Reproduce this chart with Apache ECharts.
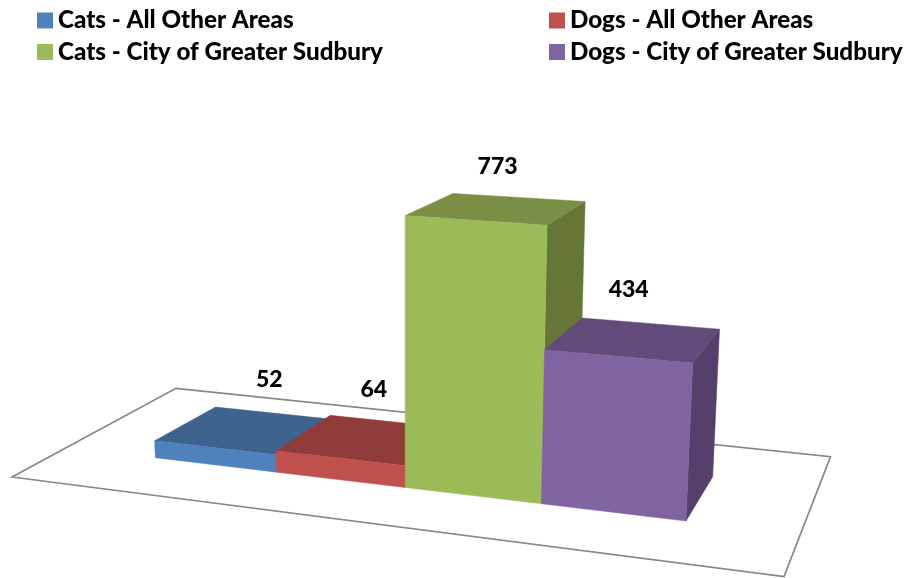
<!DOCTYPE html>
<html>
<head>
<meta charset="utf-8">
<script src="https://cdn.jsdelivr.net/npm/echarts@6/dist/echarts.min.js"></script>
<style>html,body{margin:0;padding:0;background:#fff}#c{width:907px;height:578px}</style>
</head>
<body>
<div id="c"></div>
<script>
var categories = ['Cats - All Other Areas', 'Dogs - All Other Areas', 'Cats - City of Greater Sudbury', 'Dogs - City of Greater Sudbury'];
var values = [52, 64, 773, 434];

var frontColors = ['#4f81bd', '#c0504d', '#9bbb59', '#8064a2'];
var topColors = ['#3e638f', '#8f3c3a', '#7a8f45', '#624b7a'];
var sideColors = ['#35557b', '#7a3331', '#657636', '#553f6b'];
var labelOffsetsX = [25, 8, 0, -6];
var labelOffsetsY = [-51, -50, -42, -50];

var FONT = 'Lato, "Open Sans", sans-serif';
var GRID = {left: 155, top: 200, width: 531, height: 280};

// Screen corners of the block footprint: front-left, front-right, back-right, back-left
var Q = [[155.3, 457.7], [686, 521], [712.7, 476.7], [216, 423]];
var FLOOR = [[12, 477], [784, 576.5], [830.5, 456.7], [176, 388.3]];

function homography(q) {
  var x0=q[0][0],y0=q[0][1],x1=q[1][0],y1=q[1][1],x2=q[2][0],y2=q[2][1],x3=q[3][0],y3=q[3][1];
  var dx1=x1-x2,dx2=x3-x2,sx=x0-x1+x2-x3,dy1=y1-y2,dy2=y3-y2,sy=y0-y1+y2-y3;
  var den=dx1*dy2-dx2*dy1;
  var g=(sx*dy2-dx2*sy)/den,h=(dx1*sy-sx*dy1)/den;
  var a=x1-x0+g*x1,b=x3-x0+h*x3,c=x0,d=y1-y0+g*y1,e=y3-y0+h*y3,f=y0;
  return function(u,v){var w=g*u+h*v+1;return [(a*u+b*v+c)/w,(d*u+e*v+f)/w];};
}
var floorAt = homography(Q);

// Place a point of the block: u across, d into the depth, gridH = height in grid pixels
function project(u, d, gridH) {
  var p = floorAt(u + 0.0175 * u * (1 - u), d);
  var scale = (0.325 + (p[0] - 155) * 0.00006) / (GRID.height / 800);
  var h = gridH * scale * (1 + gridH * 1.286e-4) * (1 - 0.07 * d);
  return [p[0] + h * 0.00015 * (p[0] - 405), p[1] - h];
}

function renderBlock(params, api) {
  var i = api.value(0), v = api.value(1);
  var base = api.coord([i, 0]), top = api.coord([i, v]);
  var bw = api.size([1, 0])[0];
  var gridH = base[1] - top[1];
  var u0 = (base[0] - bw / 2 - GRID.left) / GRID.width;
  var u1 = (base[0] + bw / 2 - GRID.left) / GRID.width;
  var fb0 = project(u0, 0, 0), fb1 = project(u1, 0, 0), bb1 = project(u1, 1, 0);
  var ft0 = project(u0, 0, gridH), ft1 = project(u1, 0, gridH), bt1 = project(u1, 1, gridH), bt0 = project(u0, 1, gridH);
  var cx = (ft0[0] + ft1[0] + bt1[0] + bt0[0]) / 4;
  var cy = (ft0[1] + ft1[1] + bt1[1] + bt0[1]) / 4;
  function poly(pts, fill) {
    return {type: 'polygon', shape: {points: pts}, style: {fill: fill, stroke: fill, lineWidth: 0.5}};
  }
  return {type: 'group', children: [
    poly([fb1, bb1, bt1, ft1], sideColors[i]),
    poly([ft0, ft1, bt1, bt0], topColors[i]),
    poly([fb0, fb1, ft1, ft0], frontColors[i]),
    {type: 'text', z2: 10, style: {
      text: String(v), x: cx + labelOffsetsX[i], y: cy + labelOffsetsY[i],
      fill: '#000', fontFamily: FONT, fontWeight: 900, fontSize: 23,
      align: 'center', verticalAlign: 'middle'
    }}
  ]};
}

var series = categories.map(function (name, i) {
  return {
    name: name, type: 'custom', renderItem: renderBlock, silent: true, clip: false,
    itemStyle: {color: frontColors[i]},
    encode: {x: 0, y: 1},
    data: [[i, values[i]]]
  };
});

var legendBase = {
  orient: 'vertical', icon: 'rect', itemWidth: 16, itemHeight: 16, itemGap: 7.5, top: 8.5,
  selectedMode: false, padding: 0,
  textStyle: {fontFamily: FONT, fontWeight: 900, fontSize: 24.2, color: '#000'}
};

var chart = echarts.init(document.getElementById('c'), null, {renderer: 'canvas'});
chart.setOption({
  animation: false,
  backgroundColor: '#fff',
  tooltip: {show: false},
  legend: [
    Object.assign({}, legendBase, {left: 37, data: [categories[0], categories[2]]}),
    Object.assign({}, legendBase, {left: 549, data: [categories[1], categories[3]]})
  ],
  grid: GRID,
  xAxis: {type: 'category', data: categories, show: false},
  yAxis: {type: 'value', min: 0, max: 800, show: false},
  graphic: [{
    type: 'polygon', z: 0, silent: true,
    shape: {points: FLOOR},
    style: {fill: '#fff', stroke: '#868686', lineWidth: 1.7}
  }],
  series: series
});
</script>
</body>
</html>
